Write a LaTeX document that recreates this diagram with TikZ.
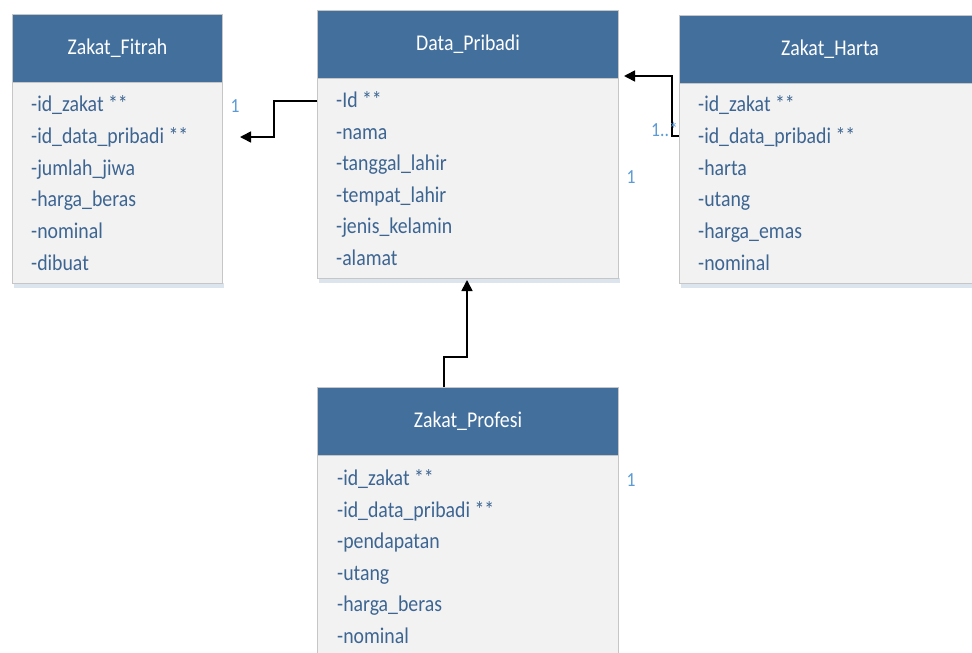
\documentclass[tikz,border=0pt]{standalone}
\usepackage{fontspec}
\setmainfont{Carlito}[FakeStretch=0.88]
\usetikzlibrary{arrows.meta}
\definecolor{headblue}{HTML}{426F9C}
\definecolor{rowtext}{HTML}{3D6592}
\definecolor{bodyfill}{HTML}{F2F2F2}
\definecolor{edgegray}{HTML}{C6C6C6}
\definecolor{multcol}{HTML}{5B9BD5}
\definecolor{shadowcol}{HTML}{DCE4EE}
\tikzset{
  head/.style={draw=edgegray, line width=1pt, fill=headblue, text=white,
    font=\fontsize{22.5}{26}\selectfont, anchor=north west, inner sep=0pt,
    minimum height=68pt},
  body/.style={draw=edgegray, line width=1pt, fill=bodyfill, anchor=north west,
    inner sep=0pt},
  attr/.style={text=rowtext, font=\fontsize{22.5}{26}\selectfont, anchor=west,
    inner sep=0pt, text height=15pt, text depth=4pt},
  mult/.style={text=multcol, font=\fontsize{20}{22}\selectfont, inner sep=0pt},
  conn/.style={line width=1.6pt, black, -{Triangle[length=11pt,width=11pt]}},
}
\begin{document}
\begin{tikzpicture}[x=1pt,y=-1pt]
\useasboundingbox (0,0) rectangle (972,653);
\begin{scope}
\clip (0,0) rectangle (972,653);

% soft shadows under the class boxes
\fill[shadowcol] (14,283) rectangle (224,288);
\fill[shadowcol] (319,278) rectangle (620,283);
\fill[shadowcol] (681,283) rectangle (990,288);

% Zakat_Fitrah
\node[body, minimum width=210pt, minimum height=201pt] (fb) at (12,82) {};
\node[head, minimum width=210pt] (fh) at (12,14) {Zakat\_Fitrah};
\foreach \t [count=\i] in {-id\_zakat **, -id\_data\_pribadi **, -jumlah\_jiwa,
    -harga\_beras, -nominal, -dibuat}
  \node[attr] (f\i) at (31,{106+31.8*(\i-1)}) {\t};

% Data_Pribadi
\node[body, minimum width=301pt, minimum height=200pt] (db) at (317,78) {};
\node[head, minimum width=301pt] (dh) at (317,10) {Data\_Pribadi};
\foreach \t [count=\i] in {-Id **, -nama, -tanggal\_lahir, -tempat\_lahir,
    -jenis\_kelamin, -alamat}
  \node[attr] (d\i) at (336,{102+31.6*(\i-1)}) {\t};

% Zakat_Harta
\node[body, minimum width=310pt, minimum height=200pt] (hb) at (679,83) {};
\node[head, minimum width=310pt] (hh) at (679,15) {};
\node[text=white, font=\fontsize{22.5}{26}\selectfont] (ht) at (830,49) {Zakat\_Harta};
\foreach \t [count=\i] in {-id\_zakat **, -id\_data\_pribadi **, -harta,
    -utang, -harga\_emas, -nominal}
  \node[attr] (h\i) at (698,{106+31.8*(\i-1)}) {\t};

% Zakat_Profesi
\node[body, minimum width=301pt, minimum height=260pt] (pb) at (317,455) {};
\node[head, minimum width=301pt] (ph) at (317,387) {Zakat\_Profesi};
\foreach \t [count=\i] in {-id\_zakat **, -id\_data\_pribadi **, -pendapatan,
    -utang, -harga\_beras, -nominal}
  \node[attr] (p\i) at (337,{480+31.6*(\i-1)}) {\t};

% connectors
\coordinate (fend) at (240,137);
\coordinate (hend) at (624,76);
\coordinate (pend) at (467,280);
\draw[conn] (db.west |- 0,101) -- (274,101) |- (fend);
\draw[conn] (hb.west |- 0,136) -- (672,136) |- (hend);
\draw[conn] (ph.north -| 444,0) -- (444,357) -| (pend);

% multiplicities
\node[mult] (m1) at (235,106) {1};
\node[mult, anchor=west] (m2) at (651,129) {1..*};
\node[mult] (m3) at (631,177) {1};
\node[mult] (m4) at (631,480) {1};
\end{scope}
\end{tikzpicture}
\end{document}
